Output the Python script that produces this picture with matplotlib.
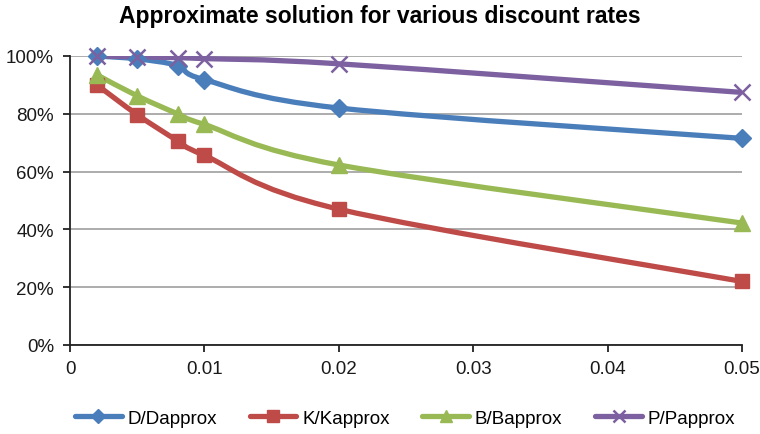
import numpy as np
import matplotlib
matplotlib.use("Agg")
import matplotlib.pyplot as plt
from matplotlib.path import Path
from matplotlib.patches import PathPatch
from matplotlib.lines import Line2D
from matplotlib.ticker import PercentFormatter

plt.rcParams['font.family'] = ['Liberation Sans', 'DejaVu Sans']

# Tasas de descuento y razones exacto/aproximado
tasas = [0.002, 0.005, 0.008, 0.01, 0.02, 0.05]
d_ratio = [1.00, 0.99, 0.967, 0.918, 0.82, 0.715]
k_ratio = [0.90, 0.797, 0.707, 0.656, 0.47, 0.22]
b_ratio = [0.935, 0.862, 0.80, 0.763, 0.623, 0.422]
p_ratio = [1.00, 0.997, 0.994, 0.991, 0.973, 0.874]

series = [
    ("D/Dapprox", d_ratio, "#4A7EBB", "D", 9, 1.0),
    ("K/Kapprox", k_ratio, "#BE4B48", "s", 10, 1.0),
    ("B/Bapprox", b_ratio, "#98B954", "^", 11, 1.0),
    ("P/Papprox", p_ratio, "#7D60A0", "x", 11, 1.8),
]

xticks = [0, 0.01, 0.02, 0.03, 0.04, 0.05]
xlabels = ["0", "0.01", "0.02", "0.03", "0.04", "0.05"]


def curva_suave(ax, xs, ys, color, lw):
    # curva tipo Catmull-Rom en coordenadas de pantalla, como el suavizado de Excel
    pts = ax.transData.transform(np.column_stack([xs, ys]))
    n = len(pts)
    verts = [pts[0]]
    codes = [Path.MOVETO]
    for i in range(n - 1):
        p0 = pts[i - 1] if i > 0 else pts[i]
        p1 = pts[i]
        p2 = pts[i + 1]
        p3 = pts[i + 2] if i + 2 < n else pts[i + 1]
        c1 = p1 + (p2 - p0) / 6.0
        c2 = p2 - (p3 - p1) / 6.0
        verts += [c1, c2, p2]
        codes += [Path.CURVE4] * 3
    verts = ax.transData.inverted().transform(np.array(verts))
    patch = PathPatch(Path(verts, codes), facecolor="none", edgecolor=color,
                      lw=lw, capstyle="round", joinstyle="round", zorder=3)
    ax.add_patch(patch)


fig = plt.figure(figsize=(7.6, 4.35), dpi=100)
ax = fig.add_axes([70 / 760, 1 - 346 / 435, 672 / 760, 289 / 435])
ax.set_xlim(0, 0.05)
ax.set_ylim(0, 1.0)

fig.canvas.draw()

handles = []
for nombre, vals, color, marca, ms, mew in series:
    curva_suave(ax, tasas, vals, color, 3.8)
    ax.plot(tasas, vals, linestyle="none", marker=marca, markersize=ms,
            color=color, markeredgewidth=mew, zorder=4, clip_on=False)
    handles.append(Line2D([], [], color=color, lw=3.8, marker=marca,
                          markersize=ms * 0.8, markeredgewidth=mew,
                          solid_capstyle="round", label=nombre))

ax.set_xticks(xticks)
ax.set_xticklabels(xlabels)
ax.set_yticks(np.arange(0, 1.01, 0.2))
ax.yaxis.set_major_formatter(PercentFormatter(1.0, decimals=0))
ax.grid(axis="y", color="#a6a6a6", lw=1.3)
ax.set_axisbelow(True)
for lado in ["top", "right"]:
    ax.spines[lado].set_visible(False)
for lado in ["left", "bottom"]:
    ax.spines[lado].set_color("#222222")
    ax.spines[lado].set_linewidth(1.3)
ax.tick_params(axis="both", direction="out", length=5, width=1.3,
               labelsize=13.5, colors="#222222", labelcolor="#1a1a1a")
ax.tick_params(axis="x", pad=6)
ax.tick_params(axis="y", pad=6.5)

fig.suptitle("Approximate solution for various discount rates",
             fontsize=16.5, fontweight="bold", y=1 - 16 / 435, va="center")

fig.legend(handles=handles, loc="center", bbox_to_anchor=(405 / 760, 1 - 419 / 435),
           ncol=4, frameon=False, fontsize=13.5, handlelength=2.5,
           handletextpad=0.3, columnspacing=1.75)

fig.savefig("out.png", dpi=100)
